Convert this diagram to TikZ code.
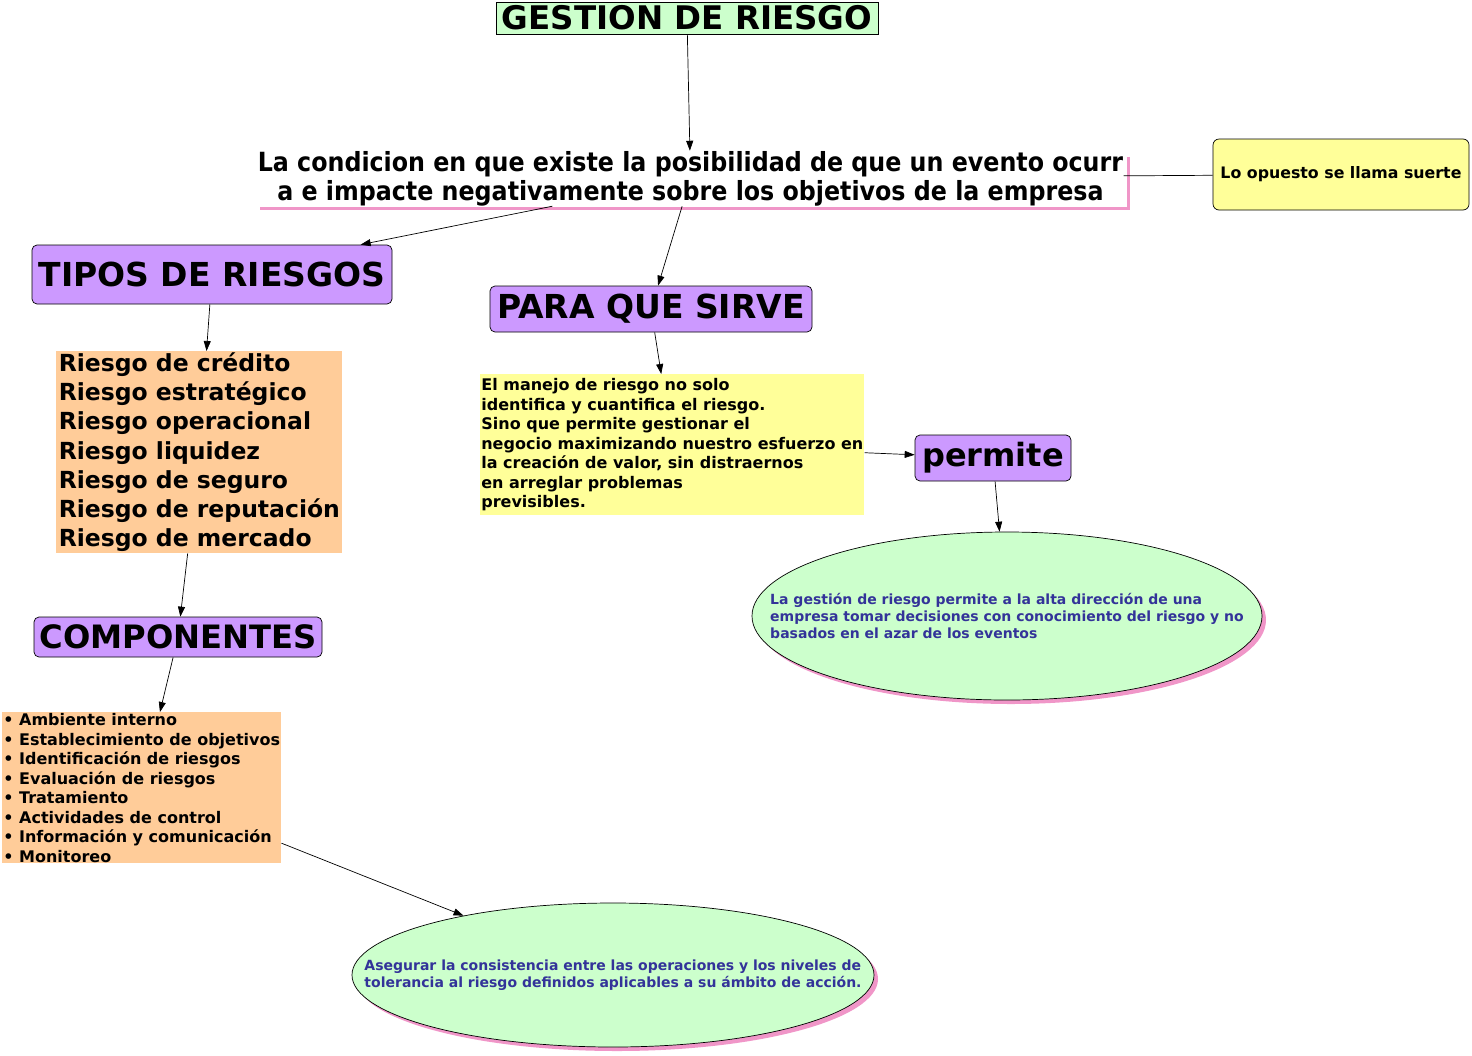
\documentclass[tikz,border=0pt]{standalone}
\usepackage{fontspec}
\setmainfont{DejaVu Sans}
\newfontfamily\condf{DejaVu Sans Condensed}
\usetikzlibrary{arrows.meta,shapes.geometric,shadows}
\definecolor{grn}{RGB}{204,255,204}
\definecolor{prp}{RGB}{204,153,255}
\definecolor{ylw}{RGB}{255,255,153}
\definecolor{org}{RGB}{255,204,153}
\definecolor{pnk}{RGB}{240,150,200}
\definecolor{nvy}{RGB}{51,51,153}

\begin{document}
\begin{tikzpicture}[x=1pt,y=-1pt,font=\bfseries,>={Triangle[length=10pt,width=7pt]},line width=0.7pt,
  big/.style={font=\fontsize{#1}{36}\selectfont\bfseries},
  ttl/.style={draw,fill=grn,line width=0.8pt,inner sep=0pt,big=32.5},
  cpt/.style={draw,rounded corners=5pt,fill=prp,inner sep=0pt},
  lst/.style={fill=org,inner sep=1pt,align=left,anchor=north west},
  ovl/.style={ellipse,draw,fill=grn,text=nvy,align=left,inner sep=-80pt,
    font=\fontsize{14}{17}\selectfont\bfseries,
    drop shadow={shadow xshift=4pt,shadow yshift=-4pt,fill=pnk,opacity=1}}]
  \useasboundingbox (0,0) rectangle (1472,1055);
  \node[ttl,minimum width=382pt,minimum height=32pt] (gest) at (687,18) {GESTION DE RIESGO};
  \node[font=\fontsize{26.4}{29}\selectfont\condf\bfseries,inner sep=0pt,align=center] (cond) at (690.5,178.5)
    {La condicion en que existe la posibilidad de que un evento ocurr\\a e impacte negativamente sobre los objetivos de la empresa};
  \draw[pnk,line width=3pt] ([xshift=5pt,yshift=-6pt]cond.north east) -- ([xshift=5pt,yshift=-2pt]cond.south east)
    -- ([xshift=3pt,yshift=-2pt]cond.south west);
  \node[draw,rounded corners=6pt,fill=ylw,minimum width=256pt,minimum height=71pt,font=\fontsize{15.8}{17}\selectfont\bfseries] (suerte) at (1341,174.5) {Lo opuesto se llama suerte};
  \node[cpt,big=33,minimum width=360pt,minimum height=59pt] (tipos) at (212,274.5) {TIPOS DE RIESGOS};
  \node[cpt,big=33,minimum width=322pt,minimum height=46pt] (para) at (651,309) {PARA QUE SIRVE};
  \node[cpt,big=32,minimum width=156pt,minimum height=46pt] (perm) at (993,458) {permite};
  \node[cpt,big=32.2,minimum width=288pt,minimum height=40pt] (comp) at (178,637) {COMPONENTES};
  % listas
  \node[lst,minimum width=286pt,minimum height=201pt,font=\fontsize{23.5}{29.3}\selectfont\bfseries] (tipo) at (56,351)
    {Riesgo de crédito\\Riesgo estratégico\\Riesgo operacional\\Riesgo liquidez\\Riesgo de seguro\\Riesgo de reputación\\Riesgo de mercado};
  \node[lst,fill=ylw,minimum width=382pt,minimum height=141pt,font=\fontsize{16}{19.5}\selectfont\bfseries] (man) at (480,374)
    {El manejo de riesgo no solo\\identifica y cuantifica el riesgo.\\Sino que permite gestionar el\\negocio maximizando nuestro esfuerzo en\\la creación de valor, sin distraernos\\en arreglar problemas\\previsibles.};
  \node[lst,minimum width=277pt,minimum height=151pt,font=\fontsize{16}{19.5}\selectfont\bfseries] (comps) at (2,712)
    {\textbullet{} Ambiente interno\\\textbullet{} Establecimiento de objetivos\\\textbullet{} Identificación de riesgos\\\textbullet{} Evaluación de riesgos\\\textbullet{} Tratamiento\\\textbullet{} Actividades de control\\\textbullet{} Información y comunicación\\\textbullet{} Monitoreo};
  % ovalos
  \node[ovl,minimum width=510pt,minimum height=168pt] (ov1) at (1007,616)
    {La gestión de riesgo permite a la alta dirección de una\\empresa tomar decisiones con conocimiento del riesgo y no\\basados en el azar de los eventos};
  \node[ovl,minimum width=522pt,minimum height=144pt] (ov2) at (613,975)
    {Asegurar la consistencia entre las operaciones y los niveles de\\tolerancia al riesgo definidos aplicables a su ámbito de acción.};
  \draw[->] (gest) -- (cond);
  \draw[->] (cond) -- (tipos);
  \draw[->] (cond) -- (para);
  \draw (cond) -- (suerte);
  \draw[->] (tipos) -- (tipo);
  \draw[->] (para) -- (man);
  \draw[->] (man) -- (perm);
  \draw[->] (perm) -- (ov1);
  \draw[->] (tipo) -- (comp);
  \draw[->] (comp) -- (comps);
  \draw[->] (comps) -- (ov2);
\end{tikzpicture}
\end{document}
